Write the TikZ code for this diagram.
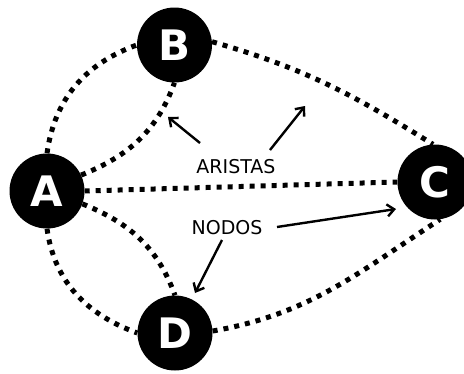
\documentclass[tikz,border=0pt]{standalone}
\usepackage{fontspec}
\setmainfont{DejaVu Sans}
\usetikzlibrary{arrows.meta}
\begin{document}
\begin{tikzpicture}[x=1pt,y=-1pt,
  vertex/.style={circle,fill=black,minimum size=75pt,inner sep=0pt,
    text=white,font=\fontsize{42}{42}\selectfont\bfseries},
  edge/.style={line width=5pt,dash pattern=on 5pt off 6pt},
  pointer/.style={line width=2.4pt,-{Straight Barb[length=7pt,width=12pt,line width=2.4pt]}},
  lbl/.style={font=\fontsize{19}{19}\selectfont,inner sep=0pt}]
\useasboundingbox (0,0) rectangle (464,373);
\begin{scope}
\clip (0,0) rectangle (464,373);
\node[vertex] (A) at (47,191) {A};
\node[vertex] (B) at (174.5,45) {B};
\node[vertex] (C) at (435,182) {C};
\node[vertex] (D) at (175,333) {D};
\end{scope}
\node[lbl] (ar) at (236,167) {ARISTAS};
\node[lbl] (no) at (227,228) {NODOS};
\coordinate (t1) at (200,143);
\coordinate (h1) at (168,117);
\coordinate (t2) at (270,150);
\coordinate (h2) at (305,106);
\coordinate (t3) at (277,227);
\coordinate (h3) at (396,209);
\coordinate (t4) at (222,240);
\coordinate (h4) at (195,293);
\begin{scope}[edge]
\draw (A.90) to[out=82,in=200] (B.180);
\draw (A.25) to[out=22,in=250] (B.-90);
\draw (B.5) to[out=-16,in=148] (C.93);
\draw (A.0) -- (C.180);
\draw (A.-20) to[out=-22,in=110] (D.90);
\draw (A.-90) to[out=-82,in=160] (D.180);
\draw (D.3) to[out=10,in=213] (C.-82);
\end{scope}
\draw[pointer] (t1) -- (h1);
\draw[pointer] (t2) -- (h2);
\draw[pointer] (t3) -- (h3);
\draw[pointer] (t4) -- (h4);
\end{tikzpicture}
\end{document}
